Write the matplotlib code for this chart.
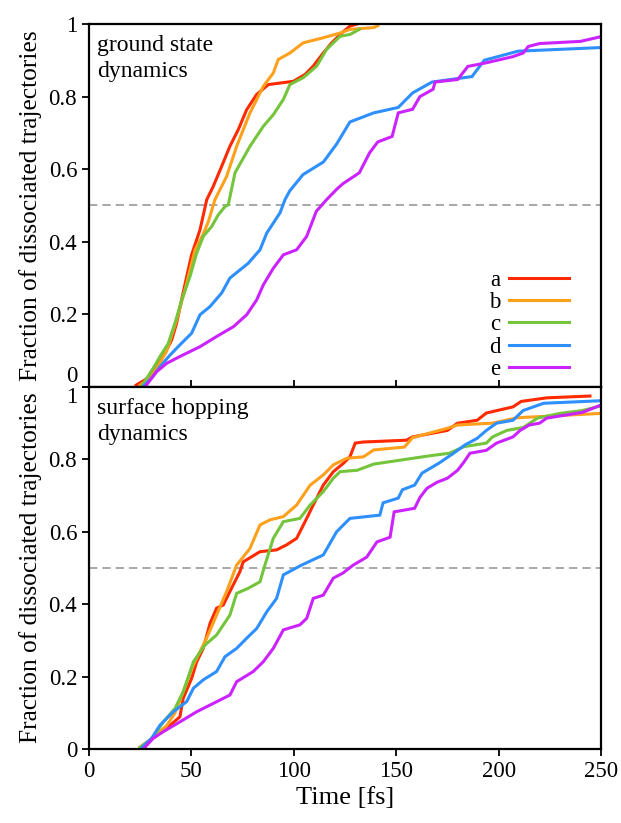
import matplotlib
matplotlib.use('Agg')
import matplotlib.pyplot as plt

plt.rcParams['font.family'] = ['Liberation Serif', 'DejaVu Serif']

names = ['a', 'b', 'c', 'd', 'e']
colors = ['#ff2a00', '#ffa01c', '#74c43c', '#2e8fff', '#cc22ff']

# ground state dynamics
gs_a_x = [23, 29.8, 33, 37.1, 40.4, 42.8, 45.2, 47.7, 50.1, 54.2, 57.5, 60.7, 64.8, 68.8, 72.9, 77, 81.9, 87.6,
          99.8, 105.5, 109.5, 114.4, 118.5, 123.4, 127.4, 131]
gs_a_y = [0.005, 0.028, 0.056, 0.093, 0.13, 0.176, 0.24, 0.304, 0.364, 0.433, 0.516, 0.553, 0.608, 0.663, 0.709,
          0.764, 0.806, 0.833, 0.842, 0.861, 0.884, 0.92, 0.948, 0.975, 0.994, 1.0]
gs_b_x = [25, 30, 34, 38, 42.8, 46.9, 51.8, 55.7, 58.3, 61.5, 67.2, 72.1, 78.6, 85.1, 90, 92.4, 98.1, 104.6,
          114.4, 122.6, 127.4, 139, 141]
gs_b_y = [0.005, 0.025, 0.06, 0.1, 0.185, 0.268, 0.378, 0.42, 0.456, 0.516, 0.58, 0.663, 0.755, 0.828, 0.865,
          0.902, 0.92, 0.948, 0.962, 0.975, 0.985, 0.99, 0.995]
gs_c_x = [26, 31.4, 34.7, 38.7, 42, 45.3, 49.3, 52.6, 55.8, 59.9, 63.1, 66.4, 68, 71.3, 78.6, 85.1, 90, 94.9,
          98.1, 104.6, 111.2, 116, 122.6, 127.4, 132]
gs_c_y = [0.005, 0.052, 0.084, 0.12, 0.176, 0.24, 0.304, 0.369, 0.415, 0.442, 0.474, 0.497, 0.502, 0.59, 0.663,
          0.718, 0.75, 0.792, 0.833, 0.852, 0.884, 0.93, 0.966, 0.971, 0.985]
gs_d_x = [27, 30.6, 34.7, 39.6, 44.4, 50.1, 54.2, 59, 64.8, 68.8, 77.8, 83.5, 86.8, 93.3, 95.7, 98, 104.5,
          114.5, 121, 127.4, 139, 151, 158, 167.5, 187, 193, 209.5, 250]
gs_d_y = [0.005, 0.025, 0.056, 0.088, 0.116, 0.148, 0.199, 0.221, 0.259, 0.3, 0.341, 0.378, 0.424, 0.48, 0.516,
          0.54, 0.585, 0.62, 0.67, 0.73, 0.755, 0.77, 0.81, 0.84, 0.855, 0.9, 0.925, 0.935]
gs_e_x = [28, 33, 37.9, 44.4, 54.2, 62.3, 70.5, 77, 81.9, 85.1, 90, 94.9, 101.4, 106.3, 111, 116, 121, 124,
          132, 137, 141, 148, 151, 158, 161.6, 168, 169, 180, 185, 194, 207, 212, 214.5, 220, 240, 250]
gs_e_y = [0.005, 0.042, 0.065, 0.084, 0.111, 0.139, 0.166, 0.199, 0.24, 0.281, 0.327, 0.364, 0.378, 0.415,
          0.484, 0.516, 0.545, 0.56, 0.59, 0.645, 0.675, 0.69, 0.755, 0.765, 0.8, 0.82, 0.84, 0.847, 0.883,
          0.893, 0.91, 0.92, 0.938, 0.946, 0.952, 0.965]

# surface hopping dynamics
sh_a_x = [25, 31.4, 37.9, 44.4, 46, 50.1, 52.6, 55.8, 59.1, 62.3, 65.6, 68.8, 73.7, 75.3, 83.5, 91.6, 96.5,
          101.4, 105.5, 109.5, 114.4, 119.3, 124.2, 127.4, 130, 134, 155, 158, 175, 180, 189.5, 194, 207, 211,
          223.5, 244.6]
sh_a_y = [0.005, 0.03, 0.057, 0.089, 0.14, 0.195, 0.241, 0.278, 0.347, 0.389, 0.398, 0.435, 0.49, 0.517, 0.545,
          0.55, 0.564, 0.582, 0.628, 0.674, 0.729, 0.766, 0.789, 0.807, 0.845, 0.848, 0.853, 0.862, 0.88, 0.9,
          0.908, 0.928, 0.945, 0.96, 0.97, 0.975]
sh_b_x = [25, 31, 38, 42, 46, 51, 57.4, 62.3, 67.2, 72.1, 78.6, 83.5, 88.4, 94.9, 101.4, 108, 114.4, 119.3,
          125.8, 134, 139, 154, 158, 175, 180, 197, 209, 250]
sh_b_y = [0.005, 0.03, 0.065, 0.1, 0.158, 0.232, 0.306, 0.37, 0.435, 0.508, 0.554, 0.619, 0.633, 0.642, 0.674,
          0.729, 0.757, 0.785, 0.803, 0.807, 0.826, 0.834, 0.86, 0.886, 0.895, 0.9, 0.915, 0.927]
sh_c_x = [25, 31, 36.3, 42, 46, 51, 56.6, 62.3, 68.8, 72.1, 77.8, 83.5, 85.9, 90, 94.9, 103, 108, 114.4, 119.3,
          122.6, 131, 139, 166.5, 176, 183, 194, 197, 204, 212, 219, 230, 241, 250]
sh_c_y = [0.005, 0.03, 0.075, 0.112, 0.158, 0.241, 0.287, 0.315, 0.37, 0.43, 0.444, 0.462, 0.508, 0.582, 0.628,
          0.637, 0.674, 0.711, 0.748, 0.766, 0.77, 0.787, 0.81, 0.817, 0.835, 0.845, 0.862, 0.88, 0.888, 0.914,
          0.927, 0.935, 0.948]
sh_d_x = [26, 30.6, 34.7, 41.2, 47.7, 51, 55.8, 62.3, 66.4, 72.1, 77, 81.9, 86.8, 91.6, 94.9, 103.8, 114.4,
          120.9, 127.4, 142, 143.6, 151, 153, 159, 162.6, 171, 178, 183.6, 189.5, 194, 199, 207, 212, 222, 250]
sh_d_y = [0.005, 0.03, 0.066, 0.103, 0.131, 0.168, 0.191, 0.214, 0.255, 0.278, 0.306, 0.333, 0.379, 0.416,
          0.481, 0.508, 0.536, 0.6, 0.637, 0.646, 0.68, 0.693, 0.716, 0.729, 0.762, 0.79, 0.817, 0.84, 0.858,
          0.88, 0.9, 0.908, 0.935, 0.955, 0.962]
sh_e_x = [27, 31.4, 36.3, 44.4, 52.6, 60.7, 68.8, 72.1, 80.2, 85.1, 90, 94.9, 103, 106.3, 109.5, 114.4, 119.3,
          124, 129, 135.6, 140.6, 147, 149, 159, 161.6, 165, 170, 175, 180, 183, 186, 194, 199, 207, 210.5, 215,
          220, 223.5, 241, 250]
sh_e_y = [0.003, 0.03, 0.048, 0.075, 0.103, 0.126, 0.149, 0.186, 0.214, 0.241, 0.278, 0.329, 0.343, 0.361,
          0.416, 0.425, 0.472, 0.486, 0.508, 0.53, 0.572, 0.585, 0.655, 0.665, 0.695, 0.72, 0.737, 0.748, 0.77,
          0.792, 0.817, 0.825, 0.845, 0.862, 0.88, 0.895, 0.9, 0.914, 0.93, 0.95]

gs = [(gs_a_x, gs_a_y), (gs_b_x, gs_b_y), (gs_c_x, gs_c_y), (gs_d_x, gs_d_y), (gs_e_x, gs_e_y)]
sh = [(sh_a_x, sh_a_y), (sh_b_x, sh_b_y), (sh_c_x, sh_c_y), (sh_d_x, sh_d_y), (sh_e_x, sh_e_y)]
panel_text = ['ground state\ndynamics', 'surface hopping\ndynamics']

fig = plt.figure(figsize=(6.21, 8.23), dpi=100)
ax1 = fig.add_axes([0.1433, 0.5298, 0.8245, 0.4411])
ax2 = fig.add_axes([0.1433, 0.0899, 0.8245, 0.4399])

for i, (ax, data) in enumerate(zip([ax1, ax2], [gs, sh])):
    for (x, y), c, n in zip(data, colors, names):
        ax.plot(x, y, color=c, lw=2.2, label=n, solid_joinstyle='miter')
    ax.axhline(0.5, color='#999999', lw=1.2, ls=(0, (5, 3)), zorder=0)
    ax.set_xlim(0, 250)
    ax.set_ylim(0, 1)
    ax.set_yticks([0, 0.2, 0.4, 0.6, 0.8, 1])
    ax.set_yticklabels(['0', '0.2', '0.4', '0.6', '0.8', '1'])
    ax.set_xticks([0, 50, 100, 150, 200, 250])
    ax.tick_params(labelsize=16.5, width=1.3, length=5, direction='out')
    for s in ax.spines.values():
        s.set_linewidth(1.6)
    ax.set_ylabel('Fraction of dissociated trajectories', fontsize=18.3, labelpad=5)
    ax.text(0.015, 0.97, panel_text[i], transform=ax.transAxes, fontsize=17,
            va='top', ha='left', linespacing=1.3)

# keep the "0" of the top panel and the "1" of the bottom panel apart
ax1.get_yticklabels()[0].set_va('bottom')
ax2.get_yticklabels()[-1].set_va('top')

ax1.tick_params(axis='x', direction='in', labelbottom=False)
ax2.set_xlabel('Time [fs]', fontsize=19)
ax1.legend(loc='lower right', bbox_to_anchor=(0.96, -0.012), frameon=False, markerfirst=False,
           fontsize=16.5, handlelength=2.6, handletextpad=0.4, labelspacing=0.05, borderpad=0)

fig.savefig('out.png', dpi=100)
